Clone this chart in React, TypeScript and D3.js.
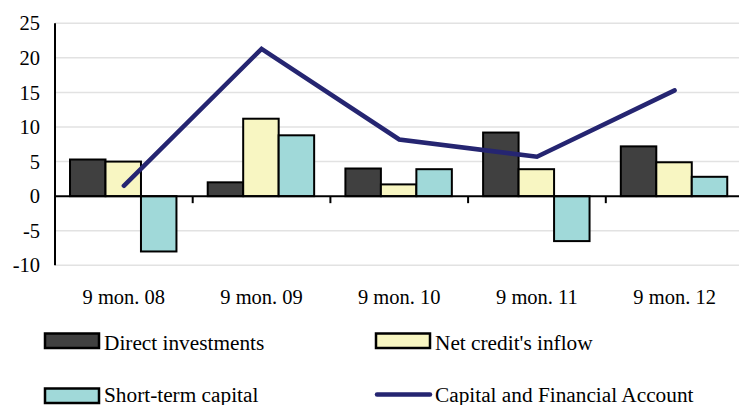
import React from "react";
import * as d3 from "d3";

const categories = ["9 mon. 08", "9 mon. 09", "9 mon. 10", "9 mon. 11", "9 mon. 12"];
const directInvestments = [5.3, 2.0, 4.0, 9.2, 7.2];
const netCreditInflow = [5.0, 11.2, 1.7, 3.9, 4.9];
const shortTermCapital = [-8.0, 8.8, 3.9, -6.5, 2.8];
const capitalFinancialAccount = [1.5, 21.3, 8.2, 5.7, 15.3];
const yTicks = [-10, -5, 0, 5, 10, 15, 20, 25];
const barSeriesNames = ["Direct investments", "Net credit's inflow", "Short-term capital"];
const lineSeriesName = "Capital and Financial Account";

const W = 739;
const H = 405;
const FONT = "'Liberation Serif', 'Times New Roman', serif";
const COLORS = ["#404040", "#f8f6c2", "#a0d9d9"];
const LINE_COLOR = "#252571";
const LEG_FS = 21.3;

export default function App() {
  const x = d3.scaleBand<string>().domain(categories).range([55, 743.5]).padding(0);
  const y = d3.scaleLinear().domain([-10, 25]).range([265.3, 23.3]);
  const bw = x.bandwidth();
  const inner = d3
    .scaleBand<number>()
    .domain([0, 1, 2])
    .range([bw * 0.109, bw * 0.882])
    .padding(0);
  const series = [directInvestments, netCreditInflow, shortTermCapital];

  const line = d3
    .line<number>()
    .x((_, i) => (x(categories[i]) as number) + bw / 2)
    .y((d) => y(d));

  const y0 = y(0);

  return (
    <div style={{ position: "absolute", left: 0, top: 0 }}>
      <svg width={W} height={H} style={{ display: "block", background: "#fff" }}>
        {yTicks.map((t) =>
          t === 0 ? null : (
            <line key={"g" + t} x1={55} x2={W} y1={y(t)} y2={y(t)} stroke="#e2e2e2" strokeWidth={1.5} />
          )
        )}
        {yTicks.map((t) => (
          <text
            key={"yt" + t}
            x={40}
            y={y(t)}
            dy="0.35em"
            textAnchor="end"
            fontFamily={FONT}
            fontSize={20.5}
            fill="#000"
          >
            {t}
          </text>
        ))}
        {series.map((vals, si) =>
          vals.map((v, ci) => {
            const bx = (x(categories[ci]) as number) + (inner(si) as number);
            const top = Math.min(y(v), y0);
            const h = Math.abs(y(v) - y0);
            return (
              <rect
                key={`b${si}-${ci}`}
                x={bx}
                y={top}
                width={inner.bandwidth()}
                height={h}
                fill={COLORS[si]}
                stroke="#000"
                strokeWidth={2}
              />
            );
          })
        )}
        <line x1={55} x2={W} y1={y0} y2={y0} stroke="#000" strokeWidth={2} />
        {categories.slice(1).map((c) => (
          <line
            key={"tk" + c}
            x1={x(c) as number}
            x2={x(c) as number}
            y1={y0}
            y2={y0 + 7}
            stroke="#000"
            strokeWidth={2}
          />
        ))}
        <line x1={55} x2={55} y1={y(25)} y2={y(-10)} stroke="#000" strokeWidth={2} />
        <path
          d={line(capitalFinancialAccount) || ""}
          fill="none"
          stroke={LINE_COLOR}
          strokeWidth={4.5}
          strokeLinecap="round"
          strokeLinejoin="miter"
        />
        {categories.map((c) => (
          <text
            key={"xl" + c}
            x={(x(c) as number) + bw / 2}
            y={304}
            textAnchor="middle"
            fontFamily={FONT}
            fontSize={20.5}
            fill="#000"
          >
            {c}
          </text>
        ))}
        <g>
          <rect x={45} y={333.5} width={54} height={14.5} fill={COLORS[0]} stroke="#000" strokeWidth={2.5} />
          <text x={104} y={349.5} fontFamily={FONT} fontSize={LEG_FS} fill="#000">
            {barSeriesNames[0]}
          </text>
          <rect x={376} y={333.5} width={54} height={14.5} fill={COLORS[1]} stroke="#000" strokeWidth={2.5} />
          <text x={435} y={349.5} fontFamily={FONT} fontSize={LEG_FS} fill="#000">
            {barSeriesNames[1]}
          </text>
          <rect x={45} y={388.5} width={54} height={14.5} fill={COLORS[2]} stroke="#000" strokeWidth={2.5} />
          <text x={104} y={401.5} fontFamily={FONT} fontSize={LEG_FS} fill="#000">
            {barSeriesNames[2]}
          </text>
          <line x1={377} x2={430} y1={394.5} y2={394.5} stroke={LINE_COLOR} strokeWidth={4.5} strokeLinecap="round" />
          <text x={435} y={401.5} fontFamily={FONT} fontSize={LEG_FS} fill="#000">
            {lineSeriesName}
          </text>
        </g>
      </svg>
    </div>
  );
}
